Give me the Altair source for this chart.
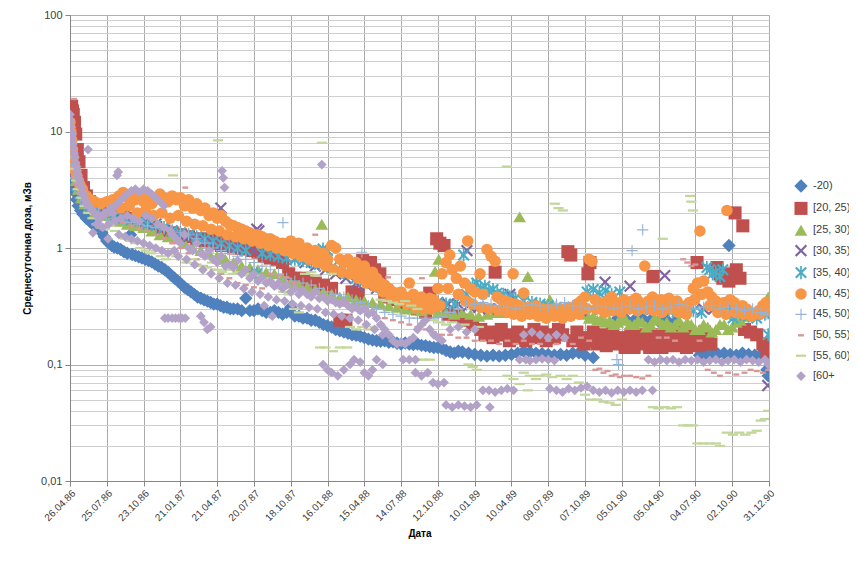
import altair as alt
import pandas as pd

GROUPS = ["-20)", "[20, 25)", "[25, 30)", "[30, 35)", "[35, 40)",
          "[40, 45)", "[45, 50)", "[50, 55)", "[55, 60)", "[60+"]
COLORS = ["#4F81BD", "#C0504D", "#9BBB59", "#8064A2", "#4BACC6",
          "#F79646", "#95B3D7", "#D99694", "#C3D69B", "#B3A2C7"]

X_TICK_DAYS = list(range(0, 1711, 90))
X_TICK_LABELS = ["26.04.86", "25.07.86", "23.10.86", "21.01.87", "21.04.87",
                 "20.07.87", "18.10.87", "16.01.88", "15.04.88", "14.07.88",
                 "12.10.88", "10.01.89", "10.04.89", "09.07.89", "07.10.89",
                 "05.01.90", "05.04.90", "04.07.90", "02.10.90", "31.12.90"]
Y_MAJOR = [0.01, 0.1, 1, 10, 100]
Y_GRID = [round(m * e, 4) for e in [0.01, 0.1, 1, 10] for m in range(1, 10)] + [100]

# (day since 26.04.86, dose mSv)
S_U20 = [(0,6.5),(2,5.5),(4,4.6),(6,4.0),(9,3.4),(12,3.0),(16,2.6),(20,2.3),(26,2.1),(32,1.95),(40,1.8),(48,1.7),(56,1.6),(64,1.55),(72,1.5),(78,1.35),(84,1.25),(90,1.15),(96,1.1),(102,1.05),(108,1.02),(116,1.0),(124,0.97),(132,0.93),(140,0.9),(148,1.3),(152,0.88),(160,0.86),(168,0.84),(176,0.82),(184,0.8),(192,0.78),(200,0.76),(208,0.73),(216,0.7),(224,0.68),(232,0.65),(240,0.62),(248,0.58),(256,0.55),(264,0.52),(272,0.49),(280,0.46),(288,0.44),(296,0.42),(304,0.4),(312,0.38),(320,0.37),(328,0.36),(336,0.35),(344,0.34),(352,0.33),(360,0.33),(368,0.32),(376,0.31),(384,0.31),(392,0.3),(400,0.3),(410,0.3),(420,0.29),(430,0.37),(440,0.29),(450,0.29),(460,0.3),(470,0.29),(480,0.28),(490,0.28),(500,0.29),(510,0.28),(520,0.27),(530,0.28),(540,0.31),(550,0.26),(560,0.26),(570,0.25),(580,0.25),(590,0.24),(600,0.24),(610,0.23),(620,0.22),(630,0.215),(640,0.21),(650,0.2),(660,0.195),(670,0.19),(680,0.185),(690,0.18),(700,0.178),(710,0.175),(720,0.17),(730,0.165),(740,0.162),(750,0.16),(760,0.158),(770,0.16),(780,0.155),(790,0.157),(800,0.152),(810,0.15),(820,0.153),(830,0.15),(840,0.148),(850,0.15),(860,0.146),(870,0.145),(880,0.142),(890,0.14),(900,0.14),(910,0.137),(920,0.132),(930,0.128),(940,0.125),(950,0.13),(960,0.128),(975,0.125),(990,0.122),(1005,0.12),(1020,0.118),(1035,0.12),(1050,0.118),(1065,0.12),(1080,0.122),(1095,0.125),(1110,0.13),(1125,0.128),(1140,0.125),(1155,0.124),(1170,0.122),(1185,0.12),(1200,0.122),(1215,0.12),(1230,0.125),(1245,0.126),(1260,0.12),(1280,0.115),(1340,0.25),(1360,0.245),(1380,0.24),(1400,0.25),(1420,0.24),(1440,0.235),(1460,0.24),(1480,0.23),(1540,0.12),(1555,0.122),(1570,0.125),(1585,0.123),(1600,0.125),(1612,1.05),(1615,0.122),(1630,0.12),(1645,0.125),(1660,0.122),(1675,0.12),(1690,0.122),(1700,0.118),(1705,0.09),(1708,0.08)]

S_20_25 = [(0,14),(2,15.5),(4,16.5),(6,15),(8,14),(11,12),(14,9.5),(18,7),(22,5.5),(27,4.2),(33,3.3),(40,2.8),(48,2.5),(56,2.3),(70,2.1),(90,2.0),(110,2.0),(130,1.9),(150,1.8),(170,1.7),(190,1.6),(210,1.5),(230,1.4),(250,1.35),(270,1.3),(290,1.25),(310,1.2),(330,1.15),(340,1.2),(350,1.1),(360,1.15),(370,1.05),(380,1.1),(390,1.05),(400,1.0),(410,1.05),(420,1.0),(430,0.98),(445,0.95),(460,0.92),(475,0.85),(490,0.82),(505,0.8),(520,0.75),(535,0.6),(550,0.55),(565,0.55),(580,0.52),(600,0.5),(620,0.48),(640,0.45),(660,0.24),(675,0.24),(690,0.42),(705,0.4),(716,0.78),(725,0.7),(735,0.75),(745,0.65),(758,0.6),(770,0.38),(790,0.36),(810,0.34),(830,0.32),(850,0.3),(870,0.28),(880,0.41),(897,1.2),(905,1.1),(915,1.05),(925,0.27),(945,0.26),(965,0.24),(985,0.22),(1005,0.2),(1015,0.18),(1025,0.19),(1035,0.17),(1040,0.62),(1045,0.18),(1055,0.2),(1065,0.18),(1075,0.16),(1085,0.17),(1095,0.19),(1105,0.17),(1115,0.16),(1125,0.18),(1135,0.2),(1145,0.17),(1155,0.19),(1165,0.16),(1175,0.18),(1185,0.17),(1195,0.2),(1205,0.18),(1218,0.93),(1225,0.87),(1230,0.16),(1240,0.19),(1250,0.17),(1258,0.15),(1267,0.6),(1272,0.75),(1270,0.16),(1280,0.19),(1290,0.15),(1298,0.18),(1305,0.17),(1312,0.145),(1320,0.16),(1328,0.19),(1335,0.15),(1342,0.17),(1350,0.16),(1358,0.14),(1365,0.15),(1372,0.18),(1380,0.14),(1388,0.17),(1395,0.15),(1402,0.18),(1410,0.16),(1418,0.14),(1426,0.57),(1425,0.15),(1432,0.18),(1440,0.16),(1448,0.14),(1455,0.15),(1462,0.18),(1470,0.16),(1478,0.145),(1485,0.17),(1492,0.19),(1500,0.16),(1508,0.14),(1515,0.15),(1522,0.18),(1530,0.16),(1534,0.75),(1538,0.145),(1545,0.17),(1552,0.19),(1560,0.16),(1568,0.15),(1583,0.68),(1590,0.6),(1597,0.55),(1605,0.6),(1612,0.52),(1620,0.58),(1627,2.0),(1630,0.65),(1639,0.55),(1646,1.55),(1650,0.2),(1665,0.19),(1680,0.18),(1695,0.15),(1705,0.13)]

S_25_30 = [(0,12),(3,9),(6,6.5),(10,4.8),(15,3.8),(20,3.2),(28,2.7),(36,2.4),(45,2.2),(60,2.0),(80,1.9),(100,1.8),(120,1.7),(140,1.6),(160,1.55),(180,1.5),(200,1.4),(220,1.3),(240,1.25),(260,1.2),(280,1.1),(300,1.0),(320,0.95),(340,0.9),(360,0.85),(380,0.8),(400,0.75),(420,0.7),(440,0.68),(460,0.65),(480,0.62),(500,0.6),(520,0.55),(540,0.5),(560,0.48),(580,0.46),(600,0.44),(616,1.6),(620,0.42),(640,0.4),(660,0.38),(680,0.38),(700,0.36),(720,0.35),(740,0.34),(760,0.33),(780,0.32),(800,0.31),(820,0.3),(840,0.3),(860,0.29),(880,0.3),(893,0.63),(902,0.8),(900,0.28),(920,0.28),(940,0.27),(960,0.28),(980,0.27),(1000,0.26),(1020,0.27),(1040,0.28),(1060,0.28),(1080,0.29),(1100,1.85),(1100,0.3),(1120,0.57),(1120,0.32),(1140,0.34),(1160,0.33),(1174,0.36),(1180,0.32),(1200,0.31),(1220,0.3),(1240,0.29),(1260,0.27),(1270,0.25),(1280,0.26),(1290,0.24),(1300,0.25),(1310,0.23),(1320,0.24),(1330,0.22),(1340,0.23),(1350,0.25),(1360,0.24),(1370,0.22),(1380,0.22),(1390,0.24),(1400,0.23),(1410,0.21),(1420,0.22),(1430,0.25),(1440,0.24),(1450,0.22),(1460,0.23),(1470,0.21),(1480,0.22),(1490,0.24),(1500,0.21),(1510,0.23),(1520,0.22),(1530,0.2),(1540,0.2),(1550,0.22),(1560,0.21),(1570,0.19),(1580,0.2),(1590,0.22),(1600,0.22),(1610,0.2),(1620,0.21),(1630,0.23),(1640,0.24),(1660,0.26),(1680,0.28),(1700,0.3),(1708,0.38)]

S_30_35 = [(0,11),(4,8),(8,6),(12,4.6),(18,3.6),(25,3.0),(35,2.6),(50,2.3),(70,2.2),(90,2.1),(110,2.0),(130,1.9),(150,1.85),(170,1.8),(190,1.7),(210,1.6),(230,1.5),(250,1.4),(270,1.3),(290,1.25),(310,1.2),(330,1.15),(350,1.1),(369,2.2),(375,1.05),(400,1.0),(425,0.98),(450,0.95),(457,1.45),(462,1.4),(475,0.92),(500,0.9),(525,0.85),(550,0.8),(575,0.75),(600,0.7),(625,0.65),(650,0.6),(675,0.55),(700,0.5),(725,0.48),(750,0.45),(775,0.42),(800,0.4),(825,0.38),(850,0.36),(875,0.35),(900,0.34),(925,0.33),(950,0.33),(971,0.95),(975,0.32),(1000,0.31),(1025,0.3),(1050,0.3),(1076,0.4),(1075,0.29),(1100,0.29),(1125,0.28),(1150,0.28),(1175,0.28),(1200,0.28),(1225,0.28),(1250,0.29),(1275,0.3),(1300,0.3),(1309,0.51),(1325,0.31),(1350,0.3),(1370,0.47),(1375,0.31),(1400,0.3),(1425,0.3),(1450,0.31),(1455,0.58),(1475,0.3),(1500,0.3),(1525,0.29),(1550,0.3),(1575,0.3),(1600,0.3),(1625,0.29),(1650,0.28),(1675,0.28),(1700,0.28),(1707,0.066)]

S_35_40 = [(0,10),(4,7.5),(8,5.5),(12,4.3),(18,3.4),(25,2.9),(35,2.5),(50,2.3),(70,2.1),(90,2.0),(110,1.9),(130,1.8),(150,1.75),(170,1.7),(190,1.6),(210,1.55),(230,1.5),(250,1.4),(270,1.35),(290,1.3),(310,1.25),(330,1.2),(350,1.15),(370,1.1),(390,1.05),(410,1.0),(430,0.95),(445,0.6),(457,0.6),(470,0.9),(490,0.88),(510,0.85),(530,0.82),(550,0.8),(570,0.78),(590,0.75),(610,0.72),(619,0.98),(630,0.95),(640,0.68),(660,0.65),(680,0.6),(700,0.55),(720,0.52),(740,0.5),(760,0.46),(780,0.42),(800,0.4),(820,0.38),(840,0.37),(860,0.36),(880,0.35),(900,0.34),(920,0.33),(940,0.33),(963,0.87),(970,0.4),(985,0.48),(995,0.5),(1005,0.45),(1015,0.47),(1025,0.43),(1035,0.44),(1045,0.41),(1060,0.4),(1076,0.38),(1090,0.37),(1110,0.35),(1130,0.34),(1150,0.33),(1170,0.32),(1190,0.31),(1210,0.3),(1230,0.31),(1250,0.32),(1265,0.42),(1280,0.44),(1295,0.41),(1310,0.43),(1325,0.4),(1345,0.42),(1360,0.33),(1380,0.3),(1400,0.31),(1426,0.32),(1445,0.3),(1465,0.29),(1485,0.28),(1505,0.3),(1525,0.29),(1545,0.28),(1558,0.68),(1565,0.65),(1572,0.6),(1580,0.62),(1590,0.57),(1597,0.65),(1607,0.29),(1615,0.27),(1622,0.25),(1640,0.27),(1660,0.26),(1680,0.25),(1700,0.27),(1708,0.18)]

S_40_45 = [(0,12),(2,10),(4,8.5),(6,7),(8,6),(10,5.2),(13,4.6),(16,4.2),(20,3.8),(24,3.5),(30,3.2),(40,2.8),(50,2.6),(60,2.5),(75,2.4),(90,2.5),(105,2.6),(120,2.8),(125,2.2),(130,3.0),(140,2.7),(145,2.3),(150,2.9),(160,2.6),(165,2.0),(170,2.8),(180,2.5),(185,2.1),(190,2.7),(200,2.4),(205,1.9),(210,2.6),(220,2.9),(225,2.0),(230,2.7),(240,2.5),(245,1.8),(250,2.8),(260,2.6),(265,1.9),(270,2.7),(280,2.3),(285,1.7),(290,2.6),(300,2.2),(305,1.6),(310,2.4),(320,2.1),(325,1.55),(330,2.2),(340,1.9),(345,1.45),(350,2.0),(360,1.8),(365,1.4),(370,1.9),(380,1.7),(385,1.3),(390,1.6),(400,1.55),(405,1.25),(410,1.5),(420,1.45),(425,1.2),(430,1.4),(440,1.35),(445,1.15),(450,1.3),(460,1.3),(465,1.1),(470,1.25),(480,1.2),(485,1.05),(490,1.2),(500,1.15),(505,1.0),(510,1.1),(520,1.1),(525,0.95),(530,1.05),(540,1.15),(545,0.9),(550,1.0),(560,1.1),(565,0.85),(570,0.95),(580,1.0),(585,0.8),(590,0.9),(600,0.95),(605,0.75),(610,0.85),(620,0.9),(625,0.7),(630,0.8),(640,1.05),(645,0.65),(650,1.0),(660,0.8),(665,0.62),(670,0.75),(680,0.8),(685,0.6),(690,0.7),(700,0.75),(705,0.55),(710,0.65),(720,0.7),(725,0.5),(730,0.6),(740,0.62),(745,0.47),(750,0.55),(760,0.5),(765,0.42),(770,0.48),(780,0.45),(785,0.38),(790,0.42),(800,0.4),(805,0.35),(810,0.42),(820,0.38),(825,0.33),(830,0.5),(840,0.4),(845,0.31),(850,0.36),(860,0.38),(865,0.3),(870,0.35),(880,0.37),(885,0.3),(890,0.36),(900,0.45),(905,0.32),(910,0.6),(920,0.75),(925,0.45),(929,0.87),(935,0.65),(945,0.55),(950,0.4),(955,0.7),(965,0.5),(968,0.35),(973,1.15),(980,0.45),(985,0.33),(990,0.42),(1003,0.6),(1005,0.31),(1010,0.4),(1020,0.97),(1025,0.3),(1030,0.85),(1040,0.77),(1045,0.38),(1048,0.29),(1055,0.36),(1065,0.35),(1068,0.28),(1075,0.34),(1084,0.6),(1086,0.27),(1090,0.33),(1100,0.32),(1105,0.26),(1110,0.41),(1120,0.31),(1125,0.27),(1130,0.3),(1140,0.32),(1145,0.26),(1150,0.3),(1160,0.29),(1165,0.25),(1170,0.3),(1180,0.28),(1185,0.26),(1190,0.3),(1200,0.29),(1205,0.25),(1210,0.3),(1220,0.31),(1225,0.26),(1230,0.3),(1240,0.33),(1245,0.27),(1250,0.35),(1260,0.38),(1265,0.3),(1270,0.8),(1277,0.77),(1285,0.36),(1288,0.3),(1295,0.34),(1305,0.32),(1308,0.28),(1315,0.35),(1325,0.38),(1328,0.29),(1335,0.34),(1345,0.32),(1348,0.28),(1355,0.36),(1365,0.33),(1368,0.3),(1375,0.35),(1385,0.37),(1388,0.29),(1395,0.34),(1406,0.7),(1408,0.3),(1415,0.35),(1425,0.38),(1428,0.29),(1435,0.33),(1445,0.36),(1448,0.28),(1455,0.34),(1465,0.37),(1468,0.3),(1475,0.33),(1485,0.35),(1488,0.28),(1495,0.32),(1505,0.31),(1508,0.27),(1515,0.34),(1525,0.45),(1528,0.36),(1535,0.5),(1541,1.4),(1545,0.4),(1550,0.52),(1560,0.42),(1565,0.32),(1570,0.38),(1580,0.35),(1585,0.28),(1590,0.33),(1600,0.34),(1605,0.27),(1607,2.1),(1615,0.36),(1625,0.34),(1628,0.28),(1635,0.3),(1645,0.32),(1648,0.27),(1655,0.3),(1665,0.28),(1668,0.26),(1675,0.27),(1685,0.29),(1688,0.27),(1695,0.32),(1703,0.34),(1706,0.29),(1708,0.33)]

S_45_50 = [(0,9),(4,7),(8,5.2),(12,4),(18,3.2),(25,2.7),(35,2.4),(50,2.2),(70,2.0),(90,1.9),(110,1.8),(130,1.7),(150,1.65),(170,1.6),(190,1.55),(210,1.5),(230,1.45),(250,1.4),(270,1.35),(290,1.3),(310,1.2),(330,1.1),(350,1.0),(370,0.95),(390,0.9),(410,0.85),(430,0.8),(450,0.75),(470,0.7),(490,0.65),(510,0.6),(521,1.65),(530,0.55),(550,0.52),(570,0.5),(590,0.48),(610,0.45),(630,0.42),(650,0.4),(670,0.38),(690,0.36),(714,0.92),(710,0.34),(730,0.32),(750,0.3),(770,0.28),(790,0.27),(810,0.26),(830,0.25),(850,0.25),(870,0.24),(890,0.25),(910,0.26),(930,0.28),(950,0.3),(970,0.32),(990,0.33),(1010,0.34),(1030,0.33),(1050,0.32),(1070,0.31),(1090,0.3),(1110,0.32),(1130,0.33),(1150,0.32),(1170,0.31),(1190,0.33),(1210,0.34),(1230,0.32),(1250,0.31),(1270,0.3),(1290,0.32),(1310,0.31),(1330,0.3),(1338,0.11),(1342,0.1),(1350,0.31),(1375,0.95),(1370,0.32),(1390,0.3),(1401,1.43),(1410,0.31),(1430,0.32),(1450,0.3),(1470,0.31),(1490,0.33),(1510,0.32),(1530,0.3),(1550,0.31),(1570,0.32),(1590,0.3),(1610,0.31),(1630,0.3),(1650,0.29),(1670,0.3),(1690,0.28),(1705,0.27)]

S_50_55 = [(10,19),(0,10),(6,6),(12,4.5),(16,3.5),(24,2.9),(35,2.5),(50,2.2),(70,2.0),(90,1.9),(110,1.75),(130,1.65),(150,1.55),(170,1.45),(190,1.4),(210,1.3),(230,1.2),(250,1.1),(270,1.0),(282,3.3),(290,0.9),(310,0.8),(330,0.7),(350,0.65),(370,0.6),(390,0.55),(410,0.5),(430,0.48),(450,0.46),(470,0.45),(490,0.6),(510,0.58),(530,0.56),(550,0.5),(570,0.45),(590,0.4),(600,1.3),(610,0.36),(630,0.35),(650,0.34),(670,0.32),(690,0.3),(710,0.28),(730,0.27),(750,0.26),(770,0.25),(778,0.56),(790,0.24),(810,0.23),(830,0.22),(850,0.21),(861,0.55),(870,0.2),(890,0.19),(910,0.18),(930,0.18),(950,0.17),(970,0.17),(990,0.16),(1010,0.16),(1030,0.16),(1050,0.15),(1070,0.16),(1090,0.15),(1110,0.16),(1130,0.15),(1150,0.15),(1170,0.16),(1190,0.15),(1210,0.16),(1230,0.15),(1250,0.17),(1270,0.16),(1285,0.09),(1295,0.092),(1305,0.085),(1315,0.088),(1325,0.08),(1335,0.082),(1345,0.078),(1355,0.08),(1370,0.08),(1385,0.078),(1400,0.076),(1415,0.08),(1440,0.17),(1460,0.17),(1480,0.16),(1500,0.8),(1510,0.75),(1520,0.7),(1530,0.72),(1540,0.16),(1560,0.09),(1575,0.085),(1590,0.08),(1610,0.085),(1630,0.082),(1650,0.085),(1665,0.09),(1680,0.088),(1695,0.085),(1708,0.09)]

S_55_60 = [(0,11),(3,8),(6,6),(10,4.8),(15,3.8),(20,3.2),(28,2.7),(36,2.3),(45,2.0),(55,1.8),(65,1.6),(75,1.5),(85,1.45),(98,1.55),(110,1.4),(122,1.3),(135,1.2),(147,1.15),(160,1.1),(172,1.0),(185,0.95),(197,0.9),(210,0.95),(222,0.85),(235,0.8),(247,0.9),(252,4.2),(260,0.85),(272,0.8),(285,0.75),(298,0.8),(310,0.72),(322,0.7),(335,0.68),(347,0.75),(362,8.4),(360,0.65),(372,0.62),(385,0.65),(398,0.6),(410,0.62),(422,0.6),(435,0.58),(447,0.6),(460,0.58),(472,0.55),(485,0.5),(497,0.48),(510,0.45),(522,0.42),(535,0.4),(548,0.3),(560,0.28),(575,0.6),(590,0.62),(600,0.58),(612,0.14),(616,8.0),(625,0.14),(640,0.6),(643,0.13),(660,0.14),(678,0.14),(685,0.21),(700,0.2),(715,0.21),(730,0.2),(745,0.21),(760,0.36),(775,0.35),(790,0.34),(805,0.33),(820,0.35),(835,0.32),(850,0.11),(850,0.3),(865,0.11),(880,0.11),(890,0.24),(905,0.23),(920,0.22),(935,0.23),(950,0.21),(965,0.22),(975,0.1),(985,0.095),(995,0.09),(1000,0.21),(1069,5.0),(1070,0.08),(1085,0.075),(1100,0.068),(1110,0.085),(1120,0.06),(1125,0.08),(1140,0.075),(1150,0.08),(1165,0.082),(1180,0.078),(1186,2.4),(1195,2.2),(1206,2.1),(1200,0.08),(1215,0.075),(1230,0.08),(1245,0.07),(1260,0.055),(1275,0.05),(1290,0.05),(1305,0.048),(1320,0.047),(1335,0.045),(1350,0.05),(1426,0.043),(1440,0.042),(1450,1.2),(1455,0.043),(1470,0.042),(1485,0.043),(1500,0.03),(1512,0.03),(1517,2.8),(1520,2.5),(1524,2.1),(1524,0.03),(1535,0.021),(1550,0.021),(1565,0.021),(1580,0.021),(1590,0.02),(1607,0.026),(1622,0.025),(1637,0.026),(1652,0.025),(1667,0.026),(1680,0.027),(1690,0.033),(1700,0.034),(1708,0.04)]

S_60P = [(0,14),(1,12.5),(2,11),(3,10),(4,9.2),(5,8.5),(6,9.5),(7,7.8),(8,7.2),(10,6.5),(12,6),(14,5.4),(16,5),(18,4.6),(20,4.2),(22,3.9),(25,3.6),(28,3.3),(31,3.0),(34,2.8),(37,2.6),(40,2.4),(44,7.0),(46,2.3),(50,2.2),(55,2.1),(56,1.35),(60,2.0),(65,1.9),(65,1.6),(70,1.85),(75,1.8),(80,1.9),(80,1.5),(85,2.0),(93,1.2),(95,2.1),(95,1.6),(100,2.2),(105,2.0),(110,2.3),(110,1.7),(115,4.2),(118,4.5),(120,2.5),(120,1.3),(125,1.8),(130,2.7),(135,1.25),(140,2.9),(140,1.9),(150,3.1),(150,1.2),(155,1.8),(160,3.2),(165,1.15),(170,3.0),(170,1.7),(180,3.2),(180,1.1),(185,1.9),(190,3.1),(195,1.05),(200,2.9),(200,1.8),(210,2.7),(210,1.0),(215,1.6),(220,2.5),(225,0.95),(230,2.3),(230,1.5),(232,0.25),(240,0.25),(240,0.9),(245,1.4),(250,0.25),(250,1.3),(255,0.95),(258,0.25),(260,1.2),(265,0.85),(266,0.25),(270,1.1),(274,0.25),(280,1.3),(282,0.25),(285,0.8),(290,1.0),(300,0.95),(305,0.72),(310,1.1),(320,0.9),(320,0.26),(325,0.65),(328,0.23),(330,0.85),(336,0.2),(340,0.95),(344,0.21),(345,0.6),(350,0.8),(360,0.75),(365,0.55),(370,0.85),(372,4.6),(375,4.0),(378,3.3),(380,0.7),(385,0.5),(390,0.72),(400,0.68),(405,0.48),(410,0.78),(420,0.6),(425,0.45),(430,0.65),(440,0.55),(445,0.42),(450,0.6),(460,0.52),(465,0.4),(470,0.56),(475,0.32),(480,0.5),(485,0.38),(490,0.52),(495,0.26),(500,0.47),(505,0.36),(510,0.5),(520,0.45),(525,0.35),(530,0.48),(540,0.42),(545,0.33),(550,0.45),(560,0.4),(565,0.32),(570,0.43),(580,0.4),(585,0.31),(590,0.38),(600,0.42),(605,0.3),(610,0.37),(616,5.2),(619,0.1),(620,0.38),(625,0.28),(630,0.35),(630,0.09),(640,0.36),(640,0.085),(645,0.27),(650,0.34),(655,0.08),(660,0.33),(665,0.26),(670,0.35),(670,0.09),(680,0.32),(685,0.1),(685,0.25),(690,0.3),(695,0.11),(700,0.31),(705,0.24),(710,0.29),(710,0.105),(720,0.3),(720,0.085),(725,0.22),(730,0.27),(730,0.08),(740,0.28),(740,0.09),(745,0.2),(750,0.25),(750,0.11),(760,0.22),(765,0.1),(765,0.18),(770,0.2),(780,0.18),(790,0.16),(800,0.15),(810,0.155),(815,0.11),(820,0.15),(830,0.16),(830,0.11),(840,0.17),(845,0.11),(845,0.085),(850,0.2),(860,0.22),(860,0.08),(870,0.24),(875,0.085),(880,0.2),(888,0.07),(890,0.18),(900,0.17),(900,0.068),(910,0.16),(915,0.07),(920,0.045),(930,0.2),(935,0.043),(950,0.21),(950,0.045),(965,0.044),(970,0.19),(980,0.043),(990,0.2),(995,0.045),(1010,0.06),(1025,0.06),(1027,0.043),(1040,0.058),(1055,0.06),(1070,0.062),(1085,0.06),(1100,0.11),(1110,0.18),(1115,0.11),(1125,0.108),(1130,0.19),(1140,0.11),(1150,0.18),(1155,0.112),(1170,0.11),(1170,0.17),(1174,0.062),(1185,0.108),(1190,0.06),(1190,0.18),(1205,0.058),(1210,0.17),(1220,0.062),(1235,0.06),(1250,0.063),(1265,0.065),(1280,0.06),(1295,0.058),(1310,0.06),(1325,0.057),(1340,0.06),(1355,0.058),(1370,0.06),(1385,0.058),(1400,0.06),(1415,0.11),(1425,0.06),(1430,0.105),(1445,0.11),(1460,0.108),(1475,0.11),(1490,0.105),(1505,0.11),(1520,0.108),(1535,0.11),(1550,0.105),(1565,0.108),(1580,0.11),(1595,0.105),(1610,0.108),(1625,0.11),(1640,0.105),(1655,0.11),(1670,0.108),(1685,0.105),(1700,0.11),(1708,0.1)]

SERIES = [S_U20, S_20_25, S_25_30, S_30_35, S_35_40, S_40_45, S_45_50, S_50_55, S_55_60, S_60P]

SHAPE_X = "M-1,-0.75L-0.75,-1L0,-0.25L0.75,-1L1,-0.75L0.25,0L1,0.75L0.75,1L0,0.25L-0.75,1L-1,0.75L-0.25,0Z"
SHAPE_STAR = SHAPE_X + "M-0.14,-1.1H0.14V1.1H-0.14Z"
SHAPE_PLUS = "M-1,-0.1H1V0.1H-1ZM-0.1,-1H0.1V1H-0.1Z"
SHAPE_SDASH = "M-0.55,-0.22H0.55V0.22H-0.55Z"
SHAPE_LDASH = "M-1,-0.22H1V0.22H-1Z"
SHAPES = ["diamond", "square", "triangle-up", SHAPE_X, SHAPE_STAR,
          "circle", SHAPE_PLUS, SHAPE_SDASH, SHAPE_LDASH, "diamond"]
SIZES = [180, 95, 130, 110, 140, 150, 150, 170, 190, 190]

rows = []
for g, pts in zip(GROUPS, SERIES):
    for d, v in pts:
        rows.append({"day": d, "value": v, "group": g})
df = pd.DataFrame(rows)

label_arr = "[" + ",".join("'" + s + "'" for s in X_TICK_LABELS) + "]"
major_arr = "[" + ",".join(str(v) for v in Y_MAJOR) + "]"
is_major = "indexof(" + major_arr + ", datum.value) >= 0"

FONT = "Liberation Sans"
leg = alt.Legend(title=None, orient="none", legendX=724, legendY=164,
                 labelFontSize=11, labelFont=FONT, labelColor="#404040",
                 symbolSize=55, rowPadding=8.4, padding=0, labelOffset=5,
                 symbolStrokeWidth=0)

chart = alt.Chart(df).mark_point(filled=True, opacity=1, strokeWidth=0, clip=True).encode(
    x=alt.X("day:Q",
            scale=alt.Scale(domain=[0, 1710], nice=False, zero=False),
            axis=alt.Axis(values=X_TICK_DAYS,
                          labelExpr=label_arr + "[round(datum.value/90)]",
                          labelAngle=-45, labelOverlap=False, labelFlush=False,
                          labelFontSize=10, labelFont=FONT, labelColor="#404040",
                          tickSize=5, tickColor="#868686", domainColor="#868686",
                          gridColor="#ababab", title="Дата", titleFont=FONT,
                          titleFontSize=10, titleFontWeight="bold",
                          titleColor="#000000", titlePadding=6)),
    y=alt.Y("value:Q",
            scale=alt.Scale(type="log", domain=[0.01, 100], nice=False),
            axis=alt.Axis(values=Y_GRID,
                          labelExpr=is_major + " ? replace(toString(datum.value), '.', ',') : ''",
                          labelFontSize=11, labelFont=FONT, labelColor="#404040",
                          labelPadding=3,
                          tickSize=5,
                          tickColor={"condition": {"test": is_major, "value": "#868686"},
                                     "value": "rgba(0,0,0,0)"},
                          gridColor={"condition": {"test": is_major, "value": "#b0b0b0"},
                                     "value": "#cfcfcf"},
                          domainColor="#868686",
                          title="Среднесуточная доза, мЗв", titleFont=FONT,
                          titleFontSize=10, titleFontWeight="bold",
                          titleColor="#000000", titlePadding=8)),
    color=alt.Color("group:N", scale=alt.Scale(domain=GROUPS, range=COLORS), legend=leg),
    shape=alt.Shape("group:N", scale=alt.Scale(domain=GROUPS, range=SHAPES), legend=leg),
    size=alt.Size("group:N", scale=alt.Scale(domain=GROUPS, range=SIZES), legend=None),
).properties(
    width=699, height=466,
    autosize=alt.AutoSizeParams(type="none"),
    padding={"left": 62, "top": 7, "right": 80, "bottom": 72},
).configure_view(stroke=None).configure(background="white")

chart.save("out.html", embed_options={"renderer": "svg", "actions": False})
